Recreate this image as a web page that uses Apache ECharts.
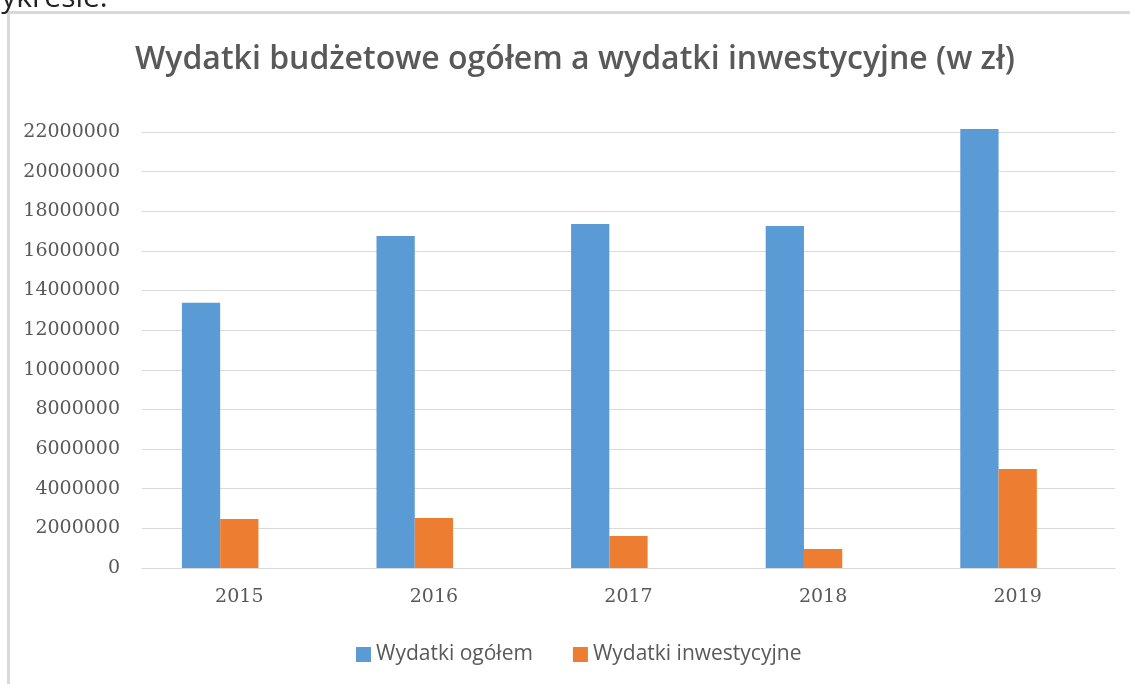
<!DOCTYPE html>
<html>
<head>
<meta charset="utf-8">
<script src="https://cdn.jsdelivr.net/npm/echarts@6/dist/echarts.min.js"></script>
<style>
  html, body { margin: 0; padding: 0; background: #fff; }
  #chart { width: 1130px; height: 684px; }
</style>
</head>
<body>
<div id="chart"></div>
<script>
const years = ["2015", "2016", "2017", "2018", "2019"];
const wydatkiOgolem = [13380000, 16750000, 17360000, 17260000, 22150000];
const wydatkiInwestycyjne = [2470000, 2520000, 1610000, 960000, 5000000];
const emptySeries = [];

const chart = echarts.init(document.getElementById("chart"), null, { renderer: "canvas" });

const option = {
  animation: false,
  backgroundColor: "#ffffff",
  title: {
    text: "Wydatki budżetowe ogółem a wydatki inwestycyjne (w zł)",
    left: 570,
    textAlign: "center",
    top: 39,
    textStyle: {
      fontFamily: "Open Sans",
      fontSize: 32,
      fontWeight: 600,
      color: "#595959",
    },
  },
  graphic: [
    {
      type: "text",
      x: -22,
      y: 13,
      style: {
        text: "wykresie:",
        fontFamily: "Open Sans",
        fontSize: 30,
        verticalAlign: "bottom",
        fill: "#222",
      },
      silent: true,
    },
    {
      type: "rect",
      shape: { x: 8.5, y: 12.5, width: 1200, height: 800 },
      style: { fill: "#ffffff", stroke: "#d9d9d9", lineWidth: 3 },
      silent: true,
      z: -10,
    },
  ],
  legend: {
    bottom: 14,
    left: 351,
    itemWidth: 15,
    itemHeight: 15,
    itemGap: 40,
    icon: "rect",
    data: ["Wydatki ogółem", "Wydatki inwestycyjne"],
    textStyle: {
      fontFamily: "Open Sans",
      fontSize: 21,
      color: "#595959",
    },
  },
  grid: {
    left: 142,
    right: 15,
    top: 132,
    bottom: 116,
  },
  xAxis: {
    type: "category",
    data: years,
    axisLine: { lineStyle: { color: "#d9d9d9", width: 1 } },
    axisTick: { show: false },
    axisLabel: {
      margin: 20,
      fontFamily: "DejaVu Serif",
      fontSize: 19,
      color: "#595959",
    },
  },
  yAxis: {
    type: "value",
    min: 0,
    max: 22000000,
    interval: 2000000,
    axisLine: { show: false },
    axisTick: { show: false },
    splitLine: { lineStyle: { color: "#d9d9d9", width: 1 } },
    axisLabel: {
      margin: 22,
      fontFamily: "DejaVu Serif",
      fontSize: 19,
      color: "#595959",
      formatter: (value) => String(value),
    },
  },
  series: [
    {
      name: "Wydatki ogółem",
      type: "bar",
      data: wydatkiOgolem,
      barGap: "0%",
      barCategoryGap: "41%",
      clip: false,
      itemStyle: { color: "#5b9bd5" },
    },
    {
      name: "Wydatki inwestycyjne",
      type: "bar",
      data: wydatkiInwestycyjne,
      clip: false,
      itemStyle: { color: "#ed7d31" },
    },
    {
      name: "hidden",
      type: "bar",
      data: emptySeries,
      itemStyle: { color: "#a5a5a5" },
    },
  ],
};

chart.setOption(option);
</script>
</body>
</html>
